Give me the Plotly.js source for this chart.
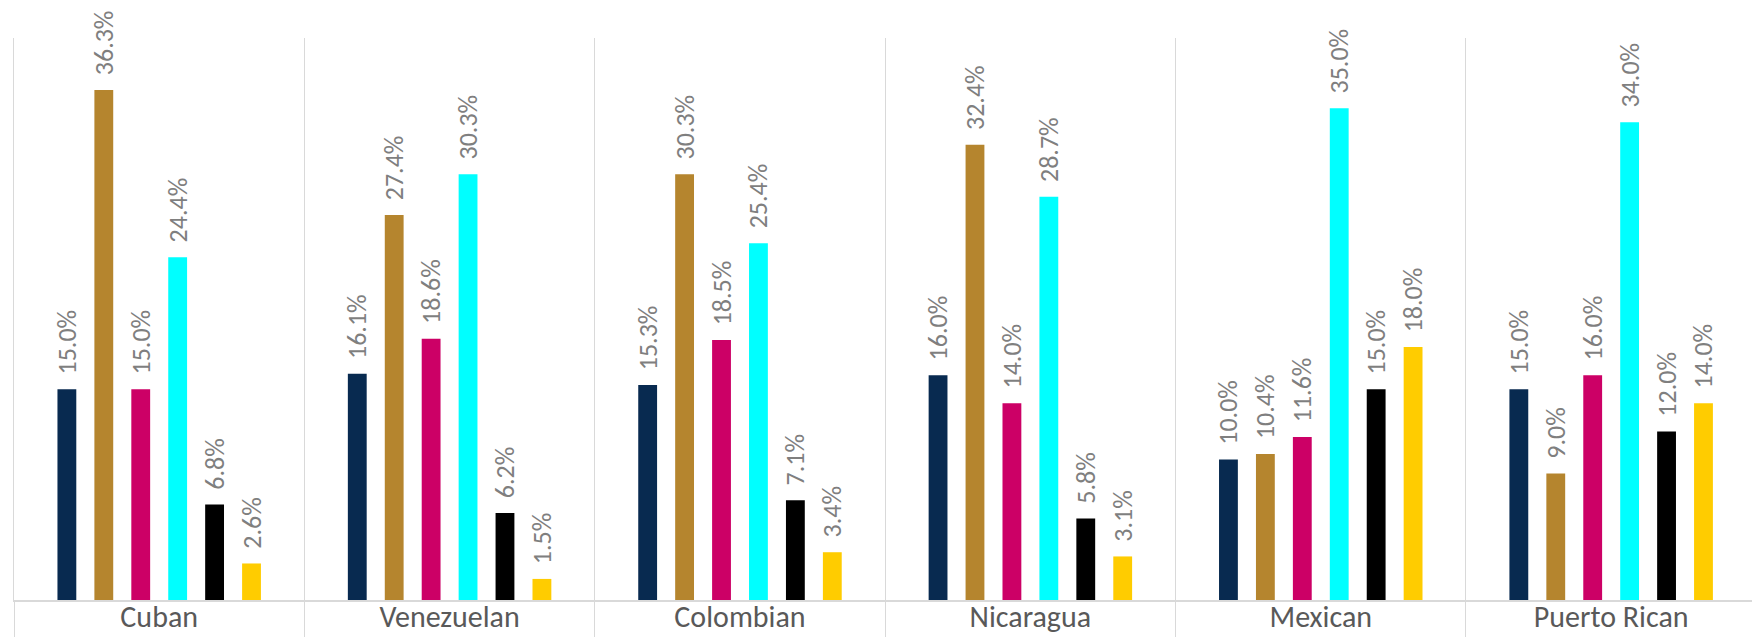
<!DOCTYPE html>
<html>
<head>
<meta charset="utf-8">
<script src="https://cdn.plot.ly/plotly-3.0.1.min.js"></script>
<style>html,body{margin:0;padding:0;background:#fff;}#chart{width:1752px;height:637px;}</style>
</head>
<body>
<div id="chart"></div>
<script>
const categories = ["Cuban", "Venezuelan", "Colombian", "Nicaragua", "Mexican", "Puerto Rican"];
const series1 = [15.0, 16.1, 15.3, 16.0, 10.0, 15.0];
const series2 = [36.3, 27.4, 30.3, 32.4, 10.4, 9.0];
const series3 = [15.0, 18.6, 18.5, 14.0, 11.6, 16.0];
const series4 = [24.4, 30.3, 25.4, 28.7, 35.0, 34.0];
const series5 = [6.8, 6.2, 7.1, 5.8, 15.0, 12.0];
const series6 = [2.6, 1.5, 3.4, 3.1, 18.0, 14.0];
const seriesNames = ["Series 1", "Series 2", "Series 3", "Series 4", "Series 5", "Series 6"];
const seriesColors = ["#082a50", "#b5852e", "#cc0066", "#00ffff", "#000000", "#ffcc00"];

const FONT = "Carlito, Calibri, 'Liberation Sans Narrow', 'Open Sans', sans-serif";
const allSeries = [series1, series2, series3, series4, series5, series6];
const traces = allSeries.map((vals, i) => ({
  type: "bar",
  name: seriesNames[i],
  x: categories,
  y: vals,
  marker: {color: seriesColors[i]},
  texttemplate: "\u00a0\u00a0%{y:.1f}%",
  textposition: "outside",
  textangle: -90,
  constraintext: "none",
  cliponaxis: false,
  textfont: {family: FONT, size: 26, color: "#7f7f7f"},
  hoverinfo: "skip"
}));

const layout = {
  width: 1752,
  height: 637,
  margin: {l: 14, r: 0, t: 37.6, b: 37, pad: 0},
  paper_bgcolor: "#ffffff",
  plot_bgcolor: "#ffffff",
  showlegend: false,
  barmode: "group",
  bargap: 0.237,
  bargroupgap: 0.49,
  font: {family: FONT},
  xaxis: {
    type: "category",
    range: [-0.5, 5.485],
    tickson: "boundaries",
    showgrid: true,
    gridcolor: "#d9d9d9",
    gridwidth: 1,
    showline: true,
    linecolor: "#d9d9d9",
    linewidth: 2,
    ticks: "outside",
    ticklen: 37,
    tickcolor: "#d9d9d9",
    tickwidth: 1,
    ticklabelstandoff: -11,
    tickfont: {family: FONT, size: 30, color: "#595959"},
    zeroline: false,
    fixedrange: true
  },
  yaxis: {
    range: [0, 40],
    visible: true,
    showticklabels: false,
    ticks: "",
    showline: true,
    linecolor: "#d9d9d9",
    linewidth: 1,
    showgrid: false,
    zeroline: false,
    fixedrange: true
  }
};

Plotly.newPlot("chart", traces, layout, {displayModeBar: false, staticPlot: true});
</script>
</body>
</html>
